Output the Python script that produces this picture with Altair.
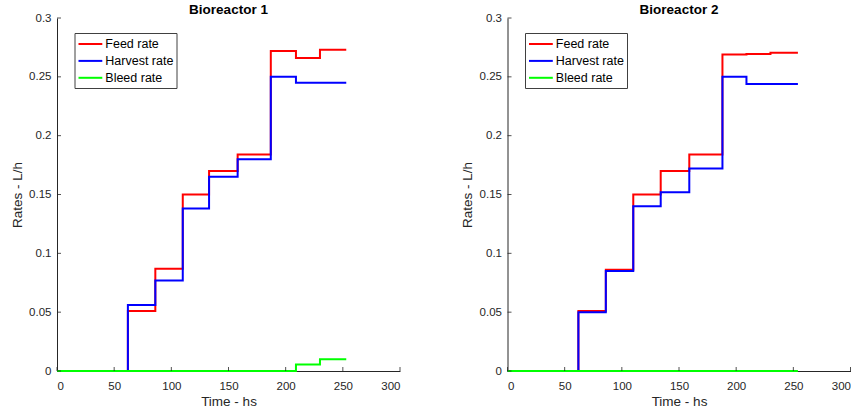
import altair as alt
import pandas as pd

# Series shown in each panel, in drawing order (feed below, bleed on top)
series_names = ["Feed rate", "Harvest rate", "Bleed rate"]
series_colors = ["#ff0000", "#0000ff", "#00ff00"]

# Bioreactor 1: step change times (h) and the rate held from each time on (L/h)
times_1 = [0, 62, 86, 110, 133, 158, 187, 209, 230, 253]
feed_1 = [0.0, 0.051, 0.087, 0.150, 0.170, 0.184, 0.272, 0.266, 0.273, 0.273]
harvest_1 = [0.0, 0.056, 0.077, 0.138, 0.165, 0.180, 0.250, 0.245, 0.245, 0.245]
bleed_1 = [0.0, 0.0, 0.0, 0.0, 0.0, 0.0, 0.0, 0.0055, 0.010, 0.010]

# Bioreactor 2
times_2 = [0, 62, 86, 110, 134, 159, 188, 209, 230, 254]
feed_2 = [0.0, 0.051, 0.086, 0.150, 0.170, 0.184, 0.269, 0.2695, 0.2705, 0.2705]
harvest_2 = [0.0, 0.050, 0.085, 0.140, 0.152, 0.172, 0.250, 0.244, 0.244, 0.244]
bleed_2 = [0.0, 0.0, 0.0, 0.0, 0.0, 0.0, 0.0, 0.0, 0.0, 0.0]

x_ticks = [0, 50, 100, 150, 200, 250, 300]
y_ticks = [0, 0.05, 0.1, 0.15, 0.2, 0.25, 0.3]

W, H = 343, 353
INK = "#262626"
FONT = "Liberation Sans"
# legend swatch: a horizontal stroke starting at the entry's left edge
SWATCH = "M-1,0H2.4"


def panel(title, times, feed, harvest, bleed):
    rows = []
    for name, vals in zip(series_names, [feed, harvest, bleed]):
        for t, v in zip(times, vals):
            rows.append({"time": t, "rate": v, "series": name})
    df = pd.DataFrame(rows)

    x = alt.X(
        "time:Q",
        scale=alt.Scale(domain=[0, 300], nice=False),
        axis=alt.Axis(values=x_ticks, title="Time - hs", tickSize=0),
    )
    y = alt.Y(
        "rate:Q",
        scale=alt.Scale(domain=[0, 0.3], nice=False),
        axis=alt.Axis(values=y_ticks, format="~g", title="Rates - L/h", tickSize=0),
    )
    color = alt.Color(
        "series:N",
        scale=alt.Scale(domain=series_names, range=series_colors),
        legend=alt.Legend(title=None, orient="none", legendX=17.5, legendY=15),
    )

    lines = [
        alt.Chart(df)
        .transform_filter(alt.datum.series == name)
        .mark_line(interpolate="step-after", strokeWidth=2)
        .encode(x=x, y=y, color=color)
        for name in series_names
    ]

    # inward-pointing tick marks on both axes
    x_tick_marks = (
        alt.Chart(pd.DataFrame({"time": x_ticks}))
        .mark_rule(color=INK, strokeWidth=0.8)
        .encode(x=x, y=alt.value(H), y2=alt.value(H - 4))
    )
    y_tick_marks = (
        alt.Chart(pd.DataFrame({"rate": y_ticks}))
        .mark_rule(color=INK, strokeWidth=0.8)
        .encode(y=y, x=alt.value(0), x2=alt.value(4))
    )

    return alt.layer(*lines, x_tick_marks, y_tick_marks).properties(
        width=W, height=H, title=alt.Title(title)
    )


chart = (
    alt.hconcat(
        panel("Bioreactor 1", times_1, feed_1, harvest_1, bleed_1),
        panel("Bioreactor 2", times_2, feed_2, harvest_2, bleed_2),
        spacing=59.5,
    )
    .resolve_scale(color="independent")
    .resolve_legend(color="independent")
    .properties(padding={"left": 10, "top": 3, "right": 0, "bottom": 0})
    .configure_view(stroke=None)
    .configure_axis(
        grid=False,
        domainColor=INK,
        domainWidth=1,
        labelFont=FONT,
        labelFontSize=11.5,
        labelColor=INK,
        titleFont=FONT,
        titleFontSize=13.5,
        titleFontWeight="normal",
        titleColor=INK,
    )
    .configure_axisX(labelPadding=9, titlePadding=3)
    .configure_axisY(labelPadding=6, titlePadding=4.5)
    .configure_title(
        font=FONT, fontSize=13.5, fontWeight="bold", color="#000000", anchor="middle", offset=-4.5
    )
    .configure_legend(
        labelFont=FONT,
        labelFontSize=12.5,
        labelColor="#000000",
        labelOffset=11.8,
        symbolType=SWATCH,
        symbolSize=196,
        symbolStrokeWidth=2,
        strokeColor="#404040",
        fillColor="#ffffff",
        padding=3,
        rowPadding=1.9,
        cornerRadius=0,
    )
)

chart.save("out.html", embed_options={"renderer": "svg", "actions": False})
